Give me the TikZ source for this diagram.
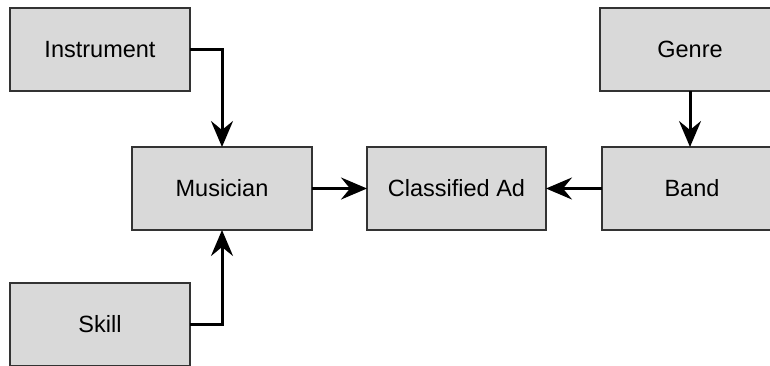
\documentclass[tikz,border=0pt]{standalone}
\usepackage{fontspec}
\setmainfont{Liberation Sans}
\usetikzlibrary{arrows.meta}
\definecolor{boxfill}{HTML}{D9D9D9}
\definecolor{boxline}{HTML}{333333}
\begin{document}
\begin{tikzpicture}[x=1pt,y=-1pt,
  entity/.style={draw=boxline, fill=boxfill, line width=1.5pt, minimum width=180pt, minimum height=83pt, inner sep=0pt, outer sep=0pt, font=\fontsize{23.5}{28}\selectfont},
  link/.style={line width=3pt, -{Stealth[length=26pt,width=22pt,inset=9pt]}}]
\useasboundingbox (0,0) rectangle (770,365);
\clip (0,0) rectangle (770,365);
\fill[white] (0,0) rectangle (770,365);
\node[entity] (inst) at (100,49.5) {Instrument};
\node[entity] (mus) at (222,188.5) {Musician};
\node[entity, minimum width=179pt] (ad) at (456.5,188.5) {Classified Ad};
\node[entity] (band) at (692,188.5) {Band};
\node[entity] (genre) at (690,49.5) {Genre};
\node[entity] (skill) at (100,324.5) {Skill};
\draw[link] (inst.east) -| (mus.north);
\draw[link] (skill.east) -| (mus.south);
\draw[link] (mus.east) -- (ad.west);
\draw[link] (band.west) -- (ad.east);
\draw[link] (genre.south) -- (genre.south |- band.north);
\end{tikzpicture}
\end{document}
